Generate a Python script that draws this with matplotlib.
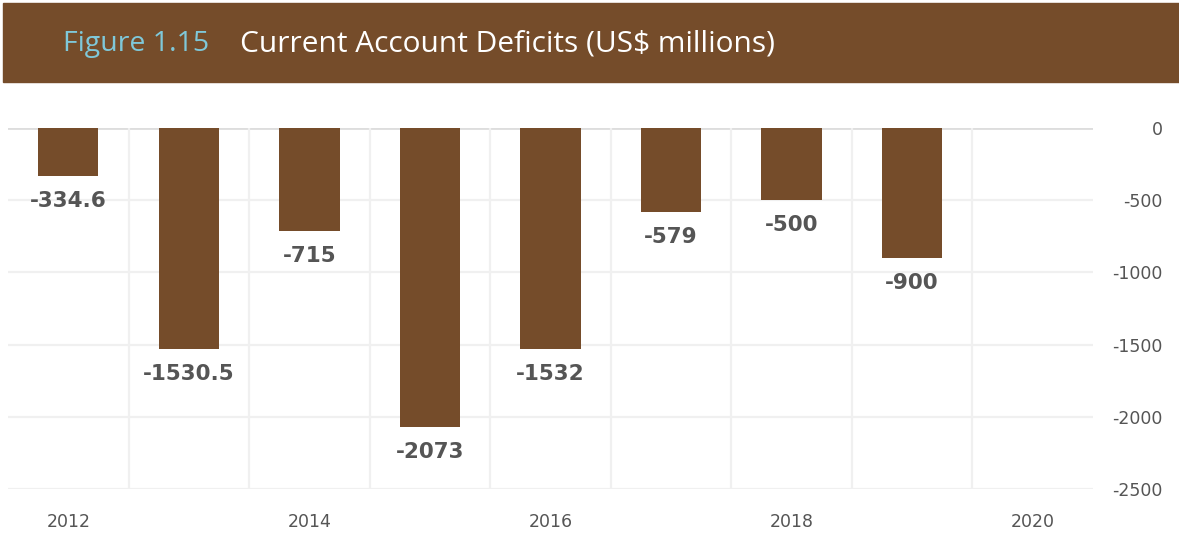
import matplotlib.pyplot as plt
from matplotlib.patches import Rectangle

years = [2012, 2013, 2014, 2015, 2016, 2017, 2018, 2019, 2020]
deficits = [-334.6, -1530.5, -715, -2073, -1532, -579, -500, -900]
value_labels = ['-334.6', '-1530.5', '-715', '-2073', '-1532', '-579', '-500', '-900']
yticks = [0, -500, -1000, -1500, -2000, -2500]

brown = '#754C2A'
grey_text = '#555555'

plt.rcParams['font.family'] = ['DejaVu Sans']

fig = plt.figure(figsize=(11.79, 5.37), dpi=100)

# header band
fig.patches.append(Rectangle((3 / 1179, 1 - 82 / 537), 1 - 3 / 1179, 79 / 537,
                             transform=fig.transFigure, color=brown, zorder=0))
fig.text(63 / 1179, 1 - 51 / 537, 'Figure 1.15', color='#7FC8D9', fontsize=20.5,
         family='Open Sans', va='baseline', ha='left')
fig.text(240 / 1179, 1 - 51 / 537, 'Current Account Deficits (US$ millions)',
         color='white', fontsize=21.5, family='Open Sans', va='baseline', ha='left')

ax = fig.add_axes([8 / 1179, 48 / 537, 1085 / 1179, 361 / 537])
pos = list(range(len(deficits)))
ax.bar(pos, deficits, width=0.5, color=brown, zorder=3)

for x, v, lab in zip(pos, deficits, value_labels):
    ax.annotate(lab, (x, v), xytext=(0, -18), textcoords='offset points',
                ha='center', va='center', fontsize=15.5, fontweight='bold',
                color=grey_text, zorder=4)

ax.set_xlim(-0.5, len(years) - 0.5)
ax.set_ylim(-2500, 0)

# gridlines
for y in yticks:
    ax.axhline(y, color='#DDDDDD' if y == 0 else '#F0F0F0', lw=2 if y == 0 else 1.6, zorder=1)
for i in range(len(years) - 1):
    ax.axvline(i + 0.5, color='#F0F0F0', lw=1.6, zorder=1)

ax.set_xticks(range(0, len(years), 2))
ax.set_xticklabels([str(y) for y in years[::2]])
ax.tick_params(axis='x', length=0, pad=17, labelsize=12.5, labelcolor=grey_text)

ax.yaxis.tick_right()
ax.set_yticks(yticks)
ax.set_yticklabels([str(t) for t in yticks])
ax.tick_params(axis='y', length=0, pad=50, labelsize=12.5, labelcolor=grey_text)
for t in ax.get_yticklabels():
    t.set_horizontalalignment('right')

for s in ax.spines.values():
    s.set_visible(False)

fig.savefig('out.png', dpi=100)
